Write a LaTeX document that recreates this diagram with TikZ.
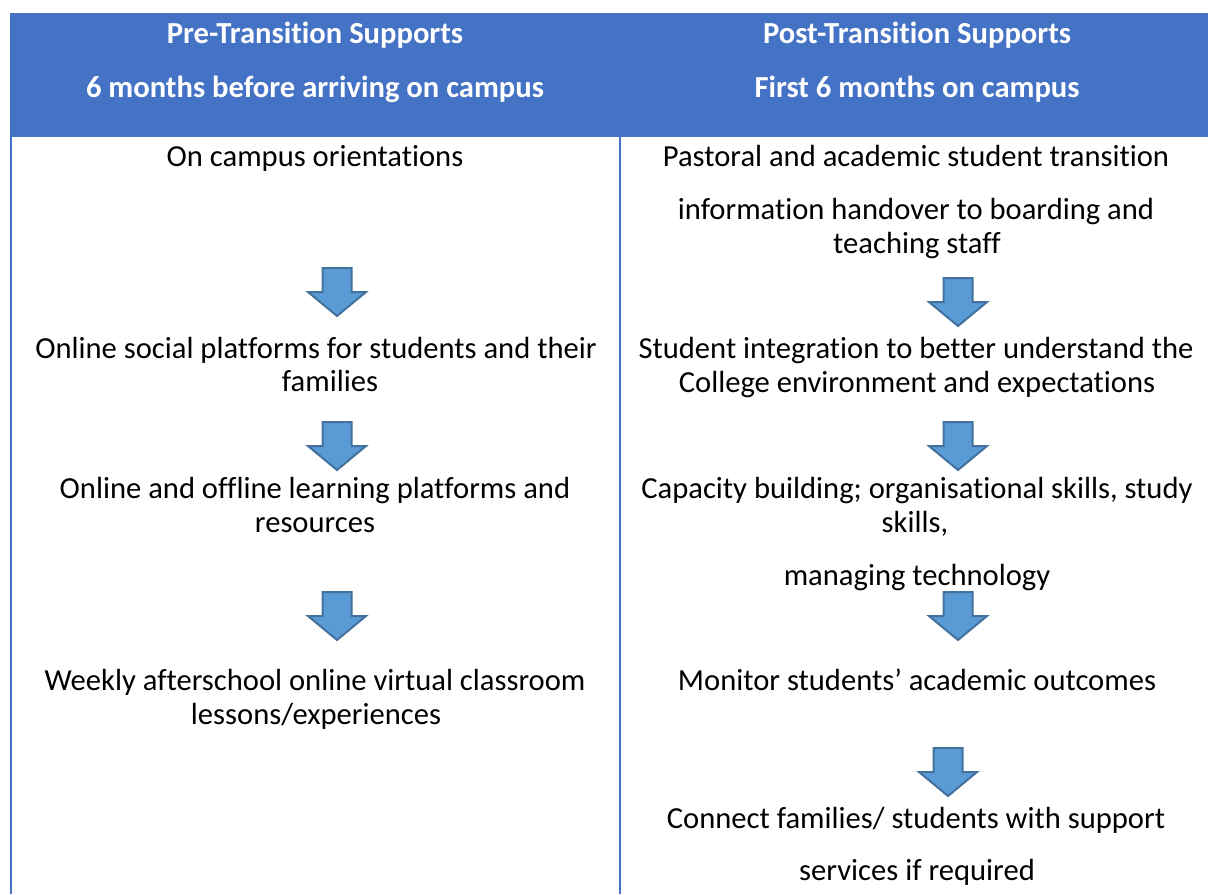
\documentclass[tikz,border=0pt]{standalone}
\usepackage{fontspec}
\setmainfont{Carlito}[Ligatures={NoCommon}]
\definecolor{hdrblue}{HTML}{4472C4}
\definecolor{arrfill}{HTML}{5B9BD5}
\definecolor{arrline}{HTML}{41719C}
\tikzset{
  cell/.style={anchor=base, inner sep=0pt, font=\fontsize{15.3pt}{18pt}\selectfont, text=black},
  hcell/.style={anchor=base, inner sep=0pt, font=\fontsize{15.3pt}{18pt}\selectfont\bfseries, text=white},
  rule/.style={draw=hdrblue, line width=1pt},
  pics/downarr/.style={code={
    \draw[arrline, fill=arrfill, line width=1pt, line join=miter]
      (-14.5,0) -- (14.5,0) -- (14.5,24) -- (29,24) -- (0,48) -- (-29,24) -- (-14.5,24) -- cycle;
  }}
}
\begin{document}
\begin{tikzpicture}[x=0.5pt,y=-0.5pt]
\useasboundingbox (0,0) rectangle (1208,894);
% header band and rules
\fill[hdrblue] (10,13) rectangle (1208,137);
\draw[rule] (11,137) -- (11,894);
\draw[rule] (620,137) -- (620,894);
% header texts
\node[hcell] (hl1) at (315,43) {Pre-Transition Supports};
\node[hcell] (hl2) at (315,97) {6 months before arriving on campus};
\node[hcell] (hr1) at (917,43) {Post-Transition Supports};
\node[hcell] (hr2) at (917,97) {First 6 months on campus};
% left column
\node[cell] (l1) at (315,166) {On campus orientations};
\pic (la1) at (337,268) {downarr};
\node[cell] (l2a) at (316,358) {Online social platforms for students and their};
\node[cell] (l2b) at (330,391) {families};
\pic (la2) at (337,422) {downarr};
\node[cell] (l3a) at (315,498) {Online and offline learning platforms and};
\node[cell] (l3b) at (315,532) {resources};
\pic (la3) at (337,592) {downarr};
\node[cell] (l4a) at (315,690) {Weekly afterschool online virtual classroom};
\node[cell] (l4b) at (316,724) {lessons/experiences};
% right column
\node[cell] (r1a) at (916,166) {Pastoral and academic student transition};
\node[cell] (r1b) at (916,219) {information handover to boarding and};
\node[cell] (r1c) at (917,253) {teaching staff};
\pic (ra1) at (958,278) {downarr};
\node[cell] (r2a) at (916,358) {Student integration to better understand the};
\node[cell] (r2b) at (917,392) {College environment and expectations};
\pic (ra2) at (958,422) {downarr};
\node[cell] (r3a) at (917,498) {Capacity building; organisational skills, study};
\node[cell] (r3b) at (915,532) {skills,};
\node[cell] (r3c) at (917,585) {managing technology};
\pic (ra3) at (958,592) {downarr};
\node[cell] (r4) at (917,690) {Monitor students’ academic outcomes};
\pic (ra4) at (948,748) {downarr};
\node[cell] (r5a) at (916,828) {Connect families/ students with support};
\node[cell] (r5b) at (917,880) {services if required};
\end{tikzpicture}
\end{document}
